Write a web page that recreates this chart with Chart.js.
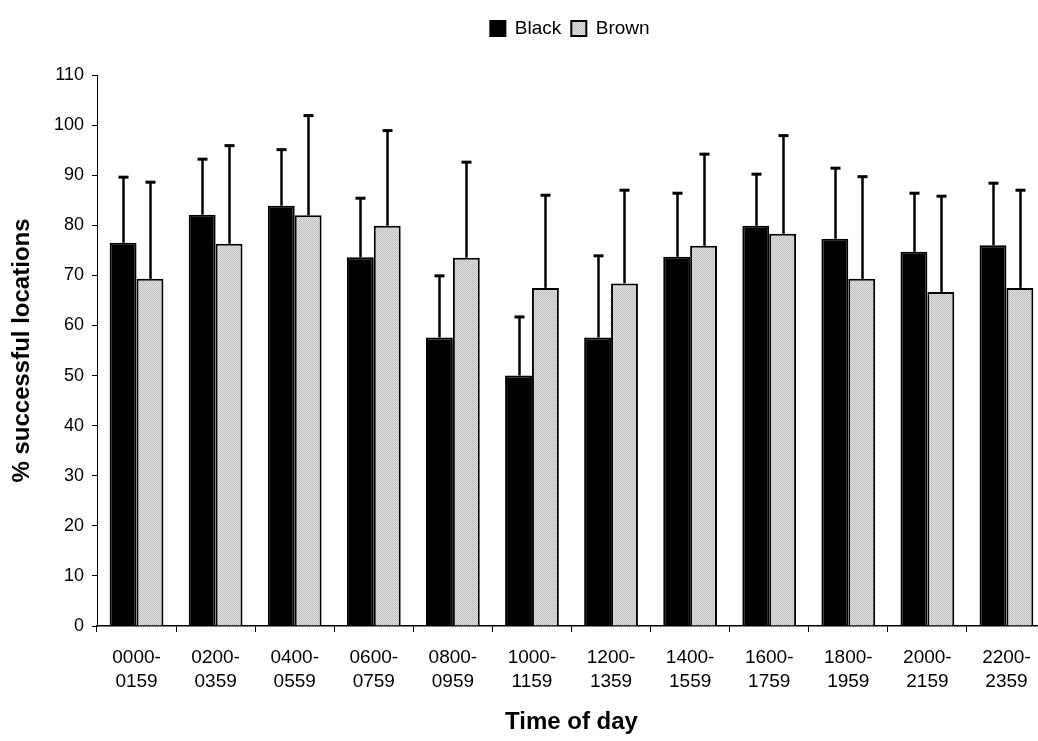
<!DOCTYPE html>
<html>
<head>
<meta charset="utf-8">
<script src="https://cdn.jsdelivr.net/npm/chart.js@4.4.1/dist/chart.umd.min.js"></script>
<style>
  html, body { margin: 0; padding: 0; background: #fff; overflow: hidden; }
  #wrap { width: 1038px; height: 741px; overflow: hidden; position: relative; }
  canvas { display: block; }
</style>
</head>
<body>
<div id="wrap"><canvas id="c" width="1046" height="741"></canvas></div>
<script>
// ---- data ----
const categories = [
  ['0000-', '0159'], ['0200-', '0359'], ['0400-', '0559'], ['0600-', '0759'],
  ['0800-', '0959'], ['1000-', '1159'], ['1200-', '1359'], ['1400-', '1559'],
  ['1600-', '1759'], ['1800-', '1959'], ['2000-', '2159'], ['2200-', '2359']
];
const blackMean = [76.5, 82.1, 83.9, 73.6, 57.6, 50.0, 57.6, 73.7, 79.9, 77.3, 74.7, 76.0];
const blackSD   = [13.1, 11.1, 11.2, 11.8, 12.3, 11.7, 16.3, 12.7, 10.3, 14.1, 11.7, 12.4];
const brownMean = [69.3, 76.3, 82.0, 79.9, 73.5, 67.5, 68.4, 75.9, 78.3, 69.3, 66.7, 67.5];
const brownSD   = [19.3, 19.6, 19.9, 19.0, 19.1, 18.5, 18.6, 18.3, 19.6, 20.4, 19.1, 19.5];
const seriesNames = ['Black', 'Brown'];
const yTicks = { min: 0, max: 110, step: 10 };
const xTitle = 'Time of day';
const yTitle = '% successful locations';

// ---- styling ----
const FONT = '"Liberation Sans", Arial, Helvetica, sans-serif';
Chart.defaults.font.family = FONT;
Chart.defaults.color = '#000';

function makeStipple() {
  const p = document.createElement('canvas');
  p.width = 4; p.height = 4;
  const g = p.getContext('2d');
  const cols = [
    ['#b8b8b8', '#e4e4e4', '#c4c4c4', '#dedede'],
    ['#e0e0e0', '#c0c0c0', '#e6e6e6', '#bcbcbc'],
    ['#c6c6c6', '#e2e2e2', '#bababa', '#e0e0e0'],
    ['#dcdcdc', '#bebebe', '#e4e4e4', '#c2c2c2']
  ];
  for (let y = 0; y < 4; y++) for (let x = 0; x < 4; x++) {
    g.fillStyle = cols[y][x]; g.fillRect(x, y, 1, 1);
  }
  return document.getElementById('c').getContext('2d').createPattern(p, 'repeat');
}
const stipple = makeStipple();

const errorBars = {
  id: 'errorBars',
  afterDatasetsDraw(chart) {
    const ctx = chart.ctx;
    const y = chart.scales.y;
    const sds = [blackSD, brownSD];
    ctx.save();
    ctx.strokeStyle = '#000';
    chart.data.datasets.forEach((ds, i) => {
      const meta = chart.getDatasetMeta(i);
      meta.data.forEach((bar, j) => {
        const top = y.getPixelForValue(ds.data[j] + sds[i][j]);
        const base = y.getPixelForValue(ds.data[j]);
        const x = Math.round(bar.x) + 0.5;
        ctx.lineWidth = 2.5;
        ctx.beginPath();
        ctx.moveTo(x, base);
        ctx.lineTo(x, top);
        ctx.stroke();
        ctx.lineWidth = 3;
        ctx.beginPath();
        ctx.moveTo(x - 5, top);
        ctx.lineTo(x + 5, top);
        ctx.stroke();
      });
    });
    ctx.restore();
  }
};

const legendShift = {
  id: 'legendShift',
  afterLayout(chart) {
    const lg = chart.legend;
    if (lg) { lg.left += 47; lg.right += 47; lg.top -= 27; lg.bottom -= 27; }
  }
};

new Chart(document.getElementById('c'), {
  type: 'bar',
  data: {
    labels: categories,
    datasets: [
      {
        label: seriesNames[0],
        data: blackMean,
        backgroundColor: '#000',
        borderColor: '#000',
        borderWidth: 2,
        categoryPercentage: 0.68,
        barPercentage: 1.0
      },
      {
        label: seriesNames[1],
        data: brownMean,
        backgroundColor: stipple,
        borderColor: '#000',
        borderWidth: 2,
        categoryPercentage: 0.68,
        barPercentage: 1.0
      }
    ]
  },
  options: {
    responsive: false,
    animation: false,
    devicePixelRatio: 1,
    layout: { padding: { top: 8, left: 0, right: 0, bottom: 0 } },
    plugins: {
      legend: {
        display: true,
        position: 'top',
        labels: {
          font: { size: 19 },
          boxWidth: 15,
          boxHeight: 15,
          padding: 10,
          color: '#000'
        }
      },
      tooltip: { enabled: false },
      title: { display: false }
    },
    scales: {
      x: {
        grid: { display: true, drawOnChartArea: false, drawTicks: true, tickLength: 6, color: '#000', lineWidth: 1 },
        border: { display: true, color: '#000', width: 1.5 },
        ticks: { font: { size: 19, lineHeight: 1.25 }, color: '#000', padding: 14, maxRotation: 0, autoSkip: false },
        title: { display: true, text: xTitle, font: { size: 24, weight: 'bold' }, color: '#000', padding: { top: 0, bottom: 4 } },
        afterFit(scale) { scale.height = 115; scale.paddingLeft = 0; scale.paddingRight = 0; }
      },
      y: {
        min: yTicks.min,
        max: yTicks.max,
        ticks: { stepSize: yTicks.step, font: { size: 18 }, color: '#000', padding: 8 },
        grid: { display: true, drawOnChartArea: false, drawTicks: true, tickLength: 5, color: '#000', lineWidth: 1 },
        border: { display: true, color: '#000', width: 1 },
        title: { display: true, text: yTitle, font: { size: 24, weight: 'bold' }, color: '#000', padding: { top: 8, bottom: 0 } },
        afterFit(scale) { scale.width = 97; scale.paddingTop = 75; }
      }
    }
  },
  plugins: [errorBars, legendShift]
});
</script>
</body>
</html>
